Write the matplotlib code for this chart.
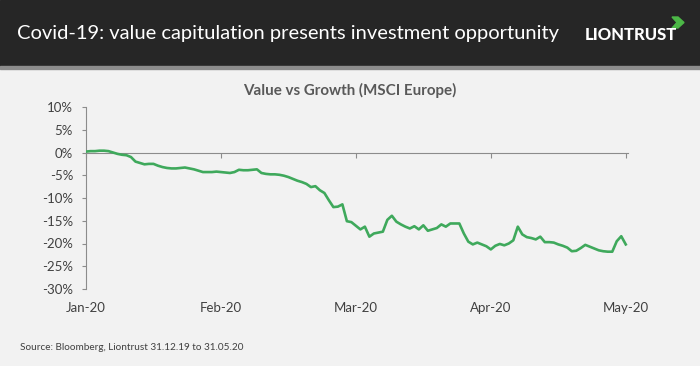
import matplotlib.pyplot as plt
import matplotlib.patches as patches
import numpy as np

# Value vs Growth relative performance (%), roughly daily from 31.12.19
value_vs_growth = [
    0.2, 0.3, 0.3, 0.4, 0.4, 0.3, 0.0, -0.3, -0.5, -0.6,
    -1.0, -2.0, -2.3, -2.6, -2.5, -2.5, -2.9, -3.2, -3.4, -3.5,
    -3.5, -3.4, -3.3, -3.5, -3.7, -4.0, -4.3, -4.3, -4.3, -4.2,
    -4.3, -4.4, -4.5, -4.3, -3.8, -3.9, -3.9, -3.8, -3.7, -4.5,
    -4.7, -4.8, -4.8, -4.9, -5.1, -5.4, -5.8, -6.2, -6.5, -6.9,
    -7.6, -7.4, -8.3, -8.9, -10.5, -12.0, -11.9, -11.4, -15.1, -15.3,
    -16.1, -16.9, -16.3, -18.5, -17.8, -17.6, -17.4, -14.8, -13.9, -15.2,
    -15.8, -16.3, -16.7, -16.2, -16.9, -16.0, -17.2, -16.9, -16.6, -15.8,
    -16.3, -15.6, -15.6, -15.6, -17.8, -19.6, -20.2, -19.8, -20.2, -20.6,
    -21.3, -20.5, -20.1, -20.4, -20.0, -19.3, -16.3, -18.0, -18.6, -18.8,
    -19.1, -18.5, -19.7, -19.7, -19.8, -20.2, -20.5, -20.9, -21.7, -21.6,
    -21.0, -20.3, -20.7, -21.1, -21.5, -21.7, -21.8, -21.8, -19.5, -18.4,
    -20.2,
]
month_labels = ["Jan-20", "Feb-20", "Mar-20", "Apr-20", "May-20"]
y_ticks = [10, 5, 0, -5, -10, -15, -20, -25, -30]

title = "Covid-19: value capitulation presents investment opportunity"
chart_title = "Value vs Growth (MSCI Europe)"
source = "Source: Bloomberg, Liontrust 31.12.19 to 31.05.20"

W, H = 700, 366
fig = plt.figure(figsize=(W / 100, H / 100), dpi=100)
fig.patch.set_facecolor("#f2f2f2")

# header band
fig.patches.append(patches.Rectangle((0, 1 - 66 / H), 1, 66 / H, transform=fig.transFigure,
                                     color="#262626", zorder=0))
fig.patches.append(patches.Rectangle((0, 1 - 69 / H), 1, 3 / H, transform=fig.transFigure,
                                     color="#8c8c8c", zorder=0))
fig.text(17 / W, 1 - 34 / H, title, color="white", fontsize=14.5, family="Lato",
         va="center", ha="left")
fig.text(585 / W, 1 - 35 / H, "LIONTRUST", color="white", fontsize=12, family="Lato",
         weight="black", va="center", ha="left")
fig.patches.append(patches.Polygon([(672 / W, 1 - 17 / H), (678 / W, 1 - 17 / H), (684 / W, 1 - 22.5 / H),
                                    (678 / W, 1 - 28 / H), (672 / W, 1 - 28 / H), (677 / W, 1 - 22.5 / H)],
                                   closed=True, transform=fig.transFigure, color="#4cb847"))

fig.text(350 / W, 1 - 90 / H, chart_title, color="#595959", fontsize=10.9, family="Lato",
         weight="bold", ha="center", va="center")
fig.text(20 / W, 1 - 348 / H, source, color="#404040", fontsize=7.2, family="Lato",
         ha="left", va="center")

# chart area
ax = fig.add_axes([86 / W, 1 - 289 / H, 542 / W, 182 / H])
ax.set_facecolor("none")
x = np.arange(len(value_vs_growth))
ax.plot(x, value_vs_growth, color="#3fa95c", lw=1.9, solid_joinstyle="round", zorder=3)

ax.set_xlim(0, 120.5)
ax.set_ylim(-30, 10)
ax.set_yticks(y_ticks)
ax.set_yticklabels([f"{t}%" for t in y_ticks])
tick_pos = np.arange(0, 121, 30)

for s in ["top", "right"]:
    ax.spines[s].set_visible(False)
ax.spines["left"].set_color("#8c8c8c")
ax.spines["bottom"].set_color("#8c8c8c")
ax.spines["bottom"].set_position(("data", 0))
ax.set_xticks(tick_pos)
ax.tick_params(axis="x", direction="out", length=3.5, color="#8c8c8c", labelbottom=False)
ax.tick_params(axis="y", direction="out", length=3, color="#8c8c8c", labelcolor="#404040",
               labelsize=9.5, pad=6.3)
for lab in ax.get_yticklabels():
    lab.set_family("Lato")

sec = ax.secondary_xaxis("bottom")
sec.set_xticks(tick_pos)
sec.set_xticklabels(month_labels)
sec.spines["bottom"].set_visible(False)
sec.tick_params(length=0, pad=9, labelsize=9.5, labelcolor="#404040")
for lab in sec.get_xticklabels():
    lab.set_family("Lato")

fig.savefig("out.png", dpi=100, facecolor=fig.get_facecolor())
